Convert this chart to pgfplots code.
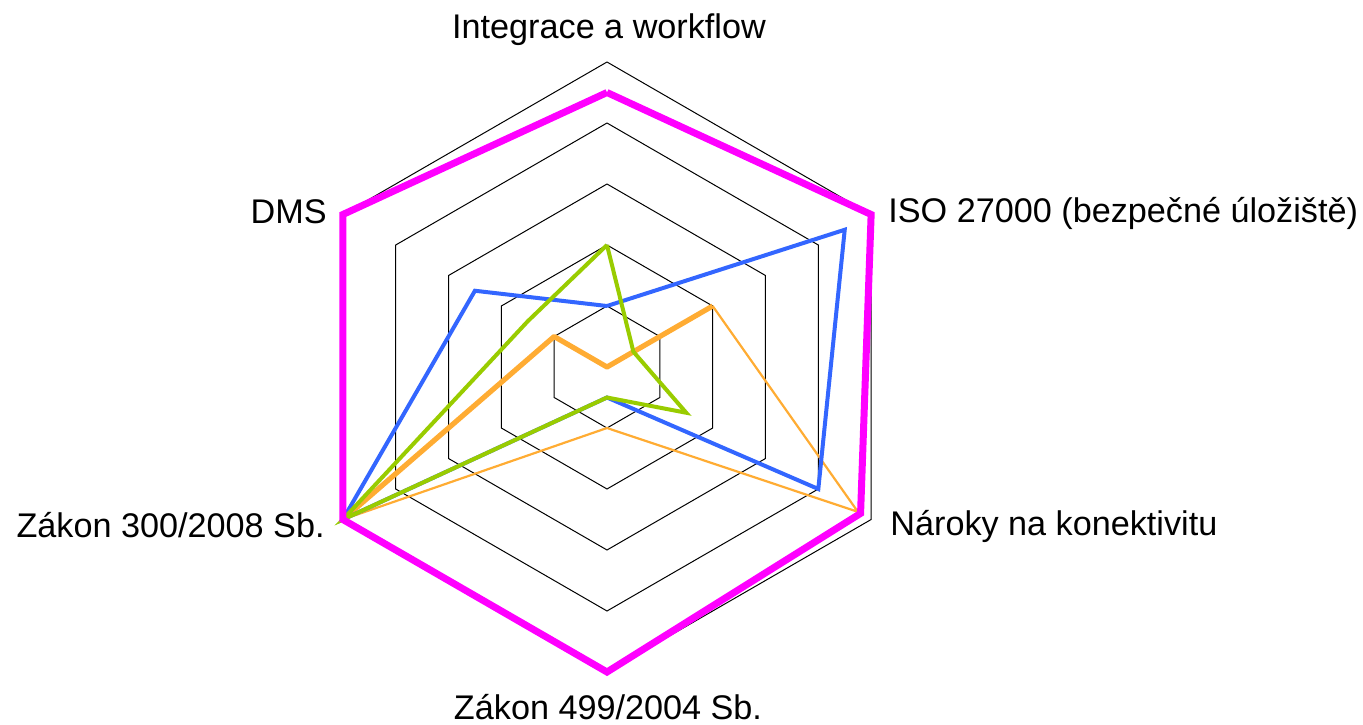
\documentclass[border=0pt]{standalone}
\usepackage{fontspec}
\setmainfont{Liberation Sans}
\usepackage{pgfplots}
\pgfplotsset{compat=1.18}
\usepgfplotslibrary{polar}
\definecolor{cmag}{RGB}{255,0,255}
\definecolor{cblue}{RGB}{51,102,255}
\definecolor{cgreen}{RGB}{153,204,0}
\definecolor{corange}{RGB}{255,172,51}
\begin{document}
\begin{tikzpicture}
\useasboundingbox (0,0) rectangle (681.5pt,362pt);
\begin{polaraxis}[
  at={(303.5pt,178.5pt)}, anchor=center,
  width=305pt, height=305pt, scale only axis,
  hide axis, xmin=0, xmax=360, ymin=0, ymax=5,
  xtick=\empty, ytick=\empty, clip=false,
]
% hexagonal grid
\foreach \r in {1,2,3,4,5}{
  \edef\tmp{\noexpand\addplot[black, line width=0.5pt, no marks] coordinates {(90,\r)(30,\r)(-30,\r)(-90,\r)(-150,\r)(150,\r)(90,\r)};}
  \tmp
}
% orange series (thick part and thin part)
\addplot[corange, line width=2.6pt, no marks, line join=round] coordinates {(-150,5)(150,1)(90,0)(30,2)};
\addplot[corange, line width=1.1pt, no marks, line join=round] coordinates {(30,2)(-30,4.75)(-90,1)(-150,5)};
% blue
\addplot[cblue, line width=2pt, no marks, line join=miter] coordinates {(90,1)(30,4.5)(-30,4)(-90,0.5)(-150,5)(150,2.5)(90,1)};
% green
\addplot[cgreen, line width=2pt, no marks, line join=miter] coordinates {(90,2)(30,0.5)(-30,1.5)(-90,0.5)(-150,5)(150,1.5)(90,2)};
% magenta
\addplot[cmag, line width=3.5pt, no marks, line join=miter] coordinates {(90,4.5)(30,5)(-30,4.8)(-90,5)(-150,5)(150,5)(90,4.5)};
\end{polaraxis}
\begin{scope}[every node/.style={inner sep=0pt, font=\fontsize{17.1}{20}\selectfont}]
\node[anchor=base] at (304.5pt,342.5pt) {Integrace a workflow};
\node[anchor=base west] at (444pt,251pt) {ISO 27000 (bezpečné úložiště)};
\node[anchor=base west] at (445pt,94.5pt) {Nároky na konektivitu};
\node[anchor=base] at (304pt,2.5pt) {Zákon 499/2004 Sb.};
\node[anchor=base east] at (162.5pt,93.5pt) {Zákon 300/2008 Sb.};
\node[anchor=base east] at (163.5pt,250.5pt) {DMS};
\end{scope}
\end{tikzpicture}
\end{document}
